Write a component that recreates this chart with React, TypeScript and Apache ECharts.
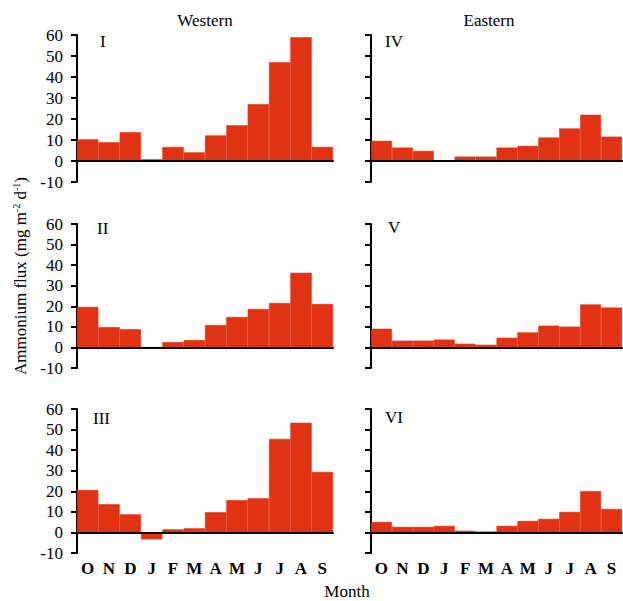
import React, { useEffect, useRef } from "react";
import * as echarts from "echarts";

const months = ["O", "N", "D", "J", "F", "M", "A", "M", "J", "J", "A", "S"];
const yTicksMin = -10;
const yTicksMax = 60;

const panelI = [10.3, 8.9, 13.7, 0.8, 6.7, 4.1, 12.2, 17.0, 27.0, 47.0, 58.9, 6.7];
const panelII = [19.7, 9.9, 8.9, 0, 2.6, 3.6, 10.9, 14.8, 18.7, 21.6, 36.3, 21.1];
const panelIII = [20.6, 13.7, 8.8, -3.4, 1.5, 2.0, 9.8, 15.7, 16.6, 45.5, 53.3, 29.4];
const panelIV = [9.6, 6.4, 4.8, 0, 2.1, 2.1, 6.4, 7.2, 11.2, 15.5, 22.0, 11.6];
const panelV = [9.1, 3.3, 3.3, 3.8, 1.8, 1.3, 4.7, 7.3, 10.6, 10.1, 20.9, 19.4];
const panelVI = [5.1, 2.7, 2.7, 3.2, 0.8, 0.4, 3.2, 5.6, 6.6, 10.0, 20.1, 11.4];

const panelNames = ["I", "II", "III", "IV", "V", "VI"];
const columnTitles = ["Western", "Eastern"];

const FONT = "'Liberation Serif', 'Times New Roman', serif";
const RED = "#E13313";

export default function App() {
  const ref = useRef<HTMLDivElement>(null);
  useEffect(() => {
    document.body.style.margin = "0";
    const chart = echarts.init(ref.current!, null, { renderer: "svg" });
    const data = [panelI, panelII, panelIII, panelIV, panelV, panelVI];
    const rows = [
      { top: 35, height: 147 },
      { top: 224, height: 144 },
      { top: 409, height: 144 },
    ];
    const cols = [
      { left: 77, width: 256 },
      { left: 371, width: 251 },
    ];
    const grid: any[] = [];
    const xAxis: any[] = [];
    const yAxis: any[] = [];
    const series: any[] = [];
    for (let c = 0; c < 2; c++) {
      for (let r = 0; r < 3; r++) {
        const i = c * 3 + r;
        grid.push({ left: cols[c].left, width: cols[c].width, top: rows[r].top, height: rows[r].height });
        xAxis.push({
          type: "category",
          gridIndex: i,
          data: months,
          boundaryGap: true,
          axisLine: { show: true, onZero: true, lineStyle: { color: "#000", width: 2 } },
          axisTick: { show: false },
          axisLabel: { show: false },
          z: 5,
        });
        xAxis.push({
          type: "category",
          gridIndex: i,
          data: months,
          position: "bottom",
          axisLine: { show: false, onZero: false },
          axisTick: { show: false },
          axisLabel: {
            show: r === 2,
            color: "#000",
            fontFamily: FONT,
            fontSize: 17,
            fontWeight: "bold",
            margin: 7,
            interval: 0,
          },
        });
        yAxis.push({
          type: "value",
          gridIndex: i,
          min: yTicksMin,
          max: yTicksMax,
          interval: 10,
          splitLine: { show: false },
          axisLine: { show: true, onZero: false, lineStyle: { color: "#000", width: 2 } },
          axisTick: { show: true, inside: false, length: 6, lineStyle: { color: "#000", width: 2 } },
          axisLabel: {
            show: c === 0,
            color: "#000",
            fontFamily: FONT,
            fontSize: 17,
            margin: 14,
          },
        });
        series.push({
          type: "bar",
          xAxisIndex: i * 2,
          yAxisIndex: i,
          data: data[i],
          barCategoryGap: "0%",
          itemStyle: { color: RED, borderColor: RED, borderWidth: 0.6 },
          silent: true,
        });
      }
    }
    const labelPos = [
      [100, 41], [97, 228], [93, 418],
      [385, 41], [388, 227], [385, 417],
    ];
    const graphic: any[] = [];
    panelNames.forEach((n, i) => {
      graphic.push({
        type: "text",
        x: labelPos[i][0],
        y: labelPos[i][1],
        style: { text: n, fontFamily: FONT, fontSize: 17, fill: "#000", verticalAlign: "middle", align: "left" },
      });
    });
    graphic.push({
      type: "text", x: 205, y: 20,
      style: { text: columnTitles[0], fontFamily: FONT, fontSize: 17, fill: "#000", align: "center", verticalAlign: "middle" },
    });
    graphic.push({
      type: "text", x: 489, y: 20,
      style: { text: columnTitles[1], fontFamily: FONT, fontSize: 17, fill: "#000", align: "center", verticalAlign: "middle" },
    });
    graphic.push({
      type: "text", x: 347, y: 591,
      style: { text: "Month", fontFamily: FONT, fontSize: 17, fill: "#000", align: "center", verticalAlign: "middle" },
    });
    graphic.push({
      type: "text", x: 20, y: 276, rotation: Math.PI / 2,
      style: {
        text: "Ammonium flux (mg m{sup|-2} d{sup|-1})",
        fontFamily: FONT, fontSize: 17, fill: "#000", align: "center", verticalAlign: "middle",
        rich: {
          sup: { fontFamily: FONT, fontSize: 10, fill: "#000", padding: [0, 0, 8, 0] },
        },
      },
    });
    chart.setOption({
      animation: false,
      backgroundColor: "#fff",
      grid,
      xAxis,
      yAxis,
      series,
      graphic,
    });
    return () => chart.dispose();
  }, []);
  return <div ref={ref} style={{ width: 623, height: 601 }} />;
}
